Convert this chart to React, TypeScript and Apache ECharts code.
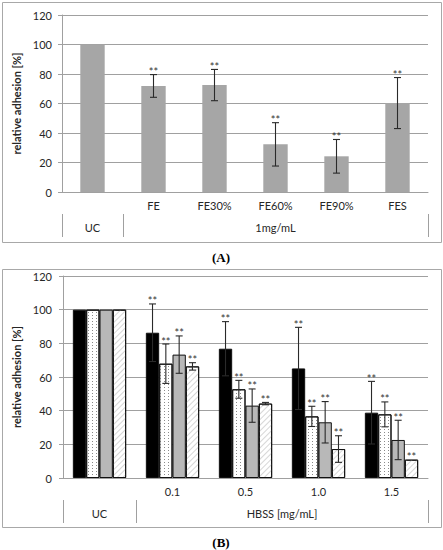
import React, { useEffect, useRef } from 'react';
import * as echarts from 'echarts';

// panel A: extracts, 1 mg/mL
const catsA = ['', 'FE', 'FE30%', 'FE60%', 'FE90%', 'FES'];
const groupsA = ['UC', '1mg/mL'];
const spansA = [1, 5];
const valuesA = [100, 71.9, 72.5, 32.3, 24.2, 60.3];
const errA = [0, 7.7, 10.6, 14.7, 11.4, 17.3];
const sigA = ['', '**', '**', '**', '**', '**'];

// panel B: HBSS doses, four bars per dose
const catsB = ['', '0.1', '0.5', '1.0', '1.5'];
const groupsB = ['UC', 'HBSS [mg/mL]'];
const spansB = [1, 4];
const blackB = [100, 86.3, 76.8, 65.1, 38.8];
const blackErrB = [0, 17.1, 16.1, 24.4, 18.6];
const dottedB = [100, 67.9, 52.7, 36.6, 37.8];
const dottedErrB = [0, 11.7, 5.3, 6.0, 7.4];
const grayB = [100, 73.3, 43.0, 33.1, 22.6];
const grayErrB = [0, 11.1, 9.9, 12.3, 11.7];
const hatchB = [100, 66.3, 44.2, 17.2, 10.9];
const hatchErrB = [0, 2.2, 0.7, 7.9, 0];
const sigB = ['', '**', '**', '**', '**'];

const FONT = 'Lato, "Noto Sans", sans-serif';
const TXT = '#262626';
const GRID_GRAY = '#a0a0a0';

// ticks at group edges and labels at group centres, in category units
function groupAxis(groups: string[], spans: number[]) {
  const edges = [0];
  spans.forEach((s) => edges.push(edges[edges.length - 1] + s));
  const centers = spans.map((s, i) => edges[i] + s / 2);
  return { edges, centers, total: edges[edges.length - 1], groups };
}

function errorSeries(
  axisIdx: number,
  vals: number[],
  errs: number[],
  sig: string[],
  k: number,
  n: number,
  gap: number
) {
  return {
    type: 'custom',
    xAxisIndex: axisIdx * 2,
    yAxisIndex: axisIdx,
    z: 10,
    silent: true,
    data: vals.map((v, i) => [i, v, errs[i]]),
    renderItem: (params: any, api: any) => {
      const i = api.value(0);
      const v = api.value(1);
      const e = api.value(2);
      const band = api.size([1, 0])[0];
      const barW = (band * (1 - gap)) / n;
      const cx = api.coord([i, 0])[0] + (k - (n - 1) / 2) * barW;
      const yt = api.coord([i, v + e])[1];
      const yb = api.coord([i, v - e])[1];
      const st = { stroke: '#2a2a2a', lineWidth: 1.1 };
      const children: any[] = [];
      if (e > 0) {
        children.push(
          { type: 'line', shape: { x1: cx, y1: yt, x2: cx, y2: yb }, style: st },
          { type: 'line', shape: { x1: cx - 3.5, y1: yt, x2: cx + 3.5, y2: yt }, style: st },
          { type: 'line', shape: { x1: cx - 3.5, y1: yb, x2: cx + 3.5, y2: yb }, style: st }
        );
      }
      const s = sig[params.dataIndex];
      if (s) {
        children.push({
          type: 'text',
          style: {
            x: cx,
            y: yt - 3,
            text: s,
            fill: '#333',
            font: `11px ${FONT}`,
            align: 'center',
            verticalAlign: 'middle',
          },
        });
      }
      return { type: 'group', children };
    },
  };
}

const App: React.FC = () => {
  const chartRef = useRef<HTMLDivElement>(null);

  useEffect(() => {
    if (!chartRef.current) return;
    const chart = echarts.init(chartRef.current, null, { renderer: 'svg' });

    const gA = groupAxis(groupsA, spansA);
    const gB = groupAxis(groupsB, spansB);

    const catAxis = (grid: number, cats: string[]) => ({
      type: 'category',
      gridIndex: grid,
      data: cats,
      axisLine: { lineStyle: { color: GRID_GRAY } },
      axisTick: { interval: 0, length: 22, lineStyle: { color: GRID_GRAY } },
      axisLabel: { interval: 0, margin: 8, fontSize: 11, color: TXT, fontFamily: FONT },
    });
    const grpAxis = (grid: number, g: ReturnType<typeof groupAxis>) => ({
      type: 'value',
      gridIndex: grid,
      position: 'bottom',
      offset: 22,
      min: 0,
      max: g.total,
      axisLine: { show: false },
      splitLine: { show: false },
      axisTick: { show: true, length: 23, customValues: g.edges, lineStyle: { color: GRID_GRAY } },
      axisLabel: {
        customValues: g.centers,
        margin: 8,
        fontSize: 11,
        color: TXT,
        fontFamily: FONT,
        formatter: (val: number) => {
          const idx = g.centers.findIndex((c) => Math.abs(c - val) < 1e-6);
          return idx >= 0 ? g.groups[idx] : '';
        },
      },
    });
    const valAxis = (grid: number, gap: number, margin: number) => ({
      type: 'value',
      gridIndex: grid,
      min: 0,
      max: 120,
      interval: 20,
      name: 'relative adhesion [%]',
      nameLocation: 'middle',
      nameGap: gap,
      nameTextStyle: { fontSize: 11, fontWeight: 'bold', color: TXT, fontFamily: FONT },
      axisLine: { show: true, lineStyle: { color: GRID_GRAY } },
      axisTick: { show: true, length: 4, lineStyle: { color: GRID_GRAY } },
      axisLabel: { margin, fontSize: 11, color: TXT, fontFamily: FONT },
      splitLine: { lineStyle: { color: GRID_GRAY } },
    });

    const gapB = 0.27;
    const barB = (name: string, data: number[], itemStyle: any) => ({
      type: 'bar',
      name,
      xAxisIndex: 2,
      yAxisIndex: 1,
      data,
      barGap: '0%',
      barCategoryGap: `${gapB * 100}%`,
      itemStyle: { borderColor: '#111', borderWidth: 1, ...itemStyle },
    });

    const option = {
      animation: false,
      textStyle: { fontFamily: FONT },
      grid: [
        { left: 62, right: 15, top: 15, bottom: 358 },
        { left: 63, right: 15, top: 276, bottom: 72 },
      ],
      xAxis: [catAxis(0, catsA), grpAxis(0, gA), catAxis(1, catsB), grpAxis(1, gB)],
      yAxis: [valAxis(0, 29, 10), valAxis(1, 31, 11)],
      graphic: [
        { type: 'rect', shape: { x: 2.5, y: 2.5, width: 439, height: 240 }, style: { fill: 'none', stroke: '#a8a8a8', lineWidth: 1 } },
        { type: 'rect', shape: { x: 2.5, y: 269.5, width: 439, height: 258 }, style: { fill: 'none', stroke: '#a8a8a8', lineWidth: 1 } },
        { type: 'text', x: 221, y: 257, style: { text: '(A)', font: 'bold 13px "Liberation Serif", serif', fill: '#000', align: 'center', verticalAlign: 'middle' } },
        { type: 'text', x: 221, y: 542, style: { text: '(B)', font: 'bold 13px "Liberation Serif", serif', fill: '#000', align: 'center', verticalAlign: 'middle' } },
      ],
      series: [
        {
          type: 'bar',
          xAxisIndex: 0,
          yAxisIndex: 0,
          data: valuesA,
          barCategoryGap: '60%',
          itemStyle: { color: '#a6a6a6' },
        },
        errorSeries(0, valuesA, errA, sigA, 0, 1, 0.6),
        barB('black', blackB, { color: '#000' }),
        barB('dotted', dottedB, {
          color: '#fff',
          decal: {
            symbol: 'rect',
            symbolSize: 1,
            color: '#8a8a8a',
            backgroundColor: '#fff',
            dashArrayX: [1, 3],
            dashArrayY: [1, 2],
            rotation: 0,
          },
        }),
        barB('gray', grayB, { color: '#b8b8b8' }),
        barB('hatched', hatchB, {
          color: '#fff',
          decal: {
            symbol: 'rect',
            symbolSize: 1,
            color: '#d6d6d6',
            backgroundColor: '#fff',
            dashArrayX: [1, 0],
            dashArrayY: [1, 2.5],
            rotation: -Math.PI / 4,
          },
        }),
        errorSeries(1, blackB, blackErrB, sigB, 0, 4, gapB),
        errorSeries(1, dottedB, dottedErrB, sigB, 1, 4, gapB),
        errorSeries(1, grayB, grayErrB, sigB, 2, 4, gapB),
        errorSeries(1, hatchB, hatchErrB, sigB, 3, 4, gapB),
      ],
    };

    chart.setOption(option as any);
    return () => {
      chart.dispose();
    };
  }, []);

  return (
    <div
      ref={chartRef}
      style={{ position: 'absolute', left: 0, top: 0, width: '443px', height: '550px', background: '#fff' }}
    />
  );
};

export default App;
